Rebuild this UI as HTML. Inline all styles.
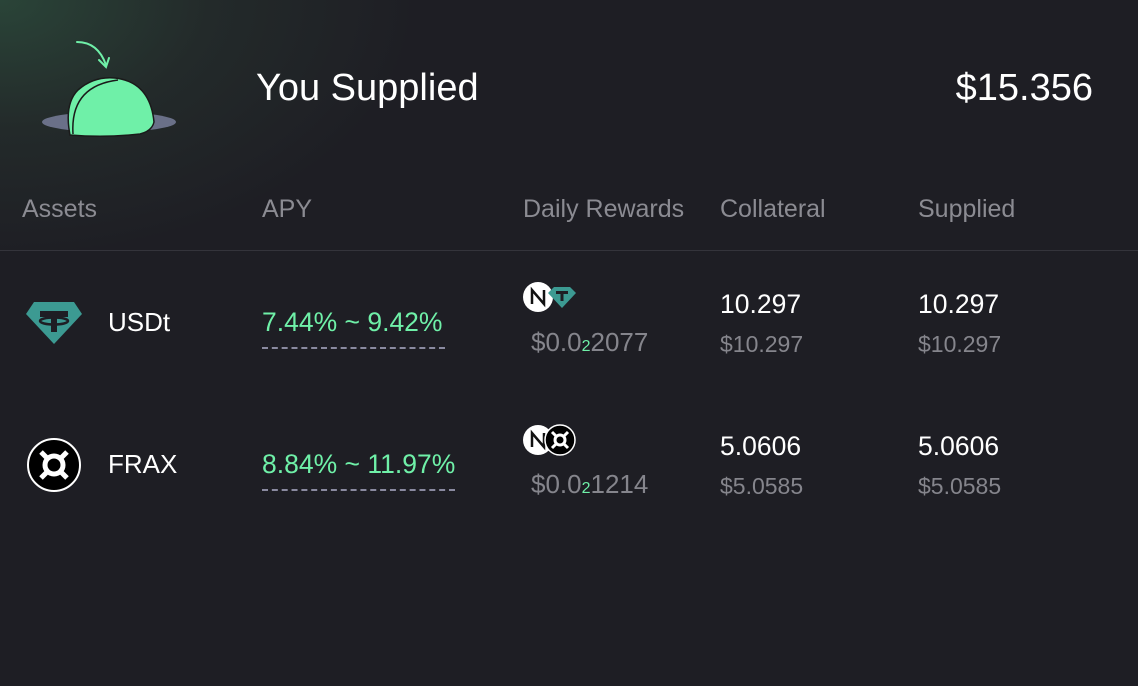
<!DOCTYPE html>
<html><head><meta charset="utf-8"><style>
body{margin:0;width:1138px;height:686px;background:#1e1e24;font-family:"Liberation Sans",sans-serif;overflow:hidden;position:relative}
.a{position:absolute;white-space:nowrap}
.h{color:#8b8b92;font-size:25px;top:195px}
.w{color:#fff}
.g{color:#6ff0a8}
.gr{color:#85858c}
.ul{position:absolute;border-top:2px dashed #8a8aa0;height:0}
</style></head><body>
<div class="a" style="left:0;top:0;width:1138px;height:250px;background:radial-gradient(ellipse 420px 260px at 0 0,#2a4438 0%,#232a2a 50%,#1e1e24 100%)"></div>
<svg class="a" style="left:0;top:0" width="200" height="150">
<ellipse cx="109" cy="122" rx="67" ry="10" fill="#6a7088"/>
<path d="M70 135 Q64 104 78 90 Q94 76 115 78 Q150 82 154 122 Q152 131 140 134 Q105 138 70 135Z" fill="#6ff0a8" stroke="#1a1a1a" stroke-width="1.5"/>
<path d="M73 134 Q70 86 118 80" fill="none" stroke="#1a1a1a" stroke-width="1.5"/>
<path d="M77 42 Q98 42 106 65 M99 60 L106 67 L109 58" fill="none" stroke="#6ff0a8" stroke-width="2" stroke-linecap="round"/>
</svg>
<div class="a w" style="left:256px;top:67px;font-size:38px">You Supplied</div>
<div class="a w" style="right:45px;top:67px;font-size:38px">$15.356</div>
<div class="a h" style="left:22px">Assets</div>
<div class="a h" style="left:262px">APY</div>
<div class="a h" style="left:523px">Daily Rewards</div>
<div class="a h" style="left:720px">Collateral</div>
<div class="a h" style="left:918px">Supplied</div>
<div class="a" style="left:0;top:250px;width:1138px;height:1px;background:#34343b"></div>

<!-- row 1 -->
<svg class="a" style="left:26px;top:302px" width="56" height="42"><path d="M8 0H48L56 12L28 42L0 12Z" fill="#3c9a92"/><path d="M14 9H42V15H31V30H25V15H14Z" fill="#1e1e24"/><ellipse cx="28" cy="19" rx="14" ry="3.5" fill="none" stroke="#1e1e24" stroke-width="2.5"/></svg>
<div class="a w" style="left:108px;top:307px;font-size:26px">USDt</div>
<div class="a g" style="left:262px;top:307px;font-size:26.5px">7.44% ~ 9.42%</div>
<div class="ul" style="left:262px;top:347px;width:183px"></div>
<svg class="a" style="left:523px;top:282px" width="60" height="32"><circle cx="15" cy="15" r="15" fill="#fff"/><path d="M9 22V8L21 22V8" fill="none" stroke="#111" stroke-width="2.5"/><path d="M31 5H47L53 11L39 26L25 11Z" fill="#3c9a92"/><path d="M33 9H45V12H40.5V19H37.5V12H33Z" fill="#1e1e24"/></svg>
<div class="a gr" style="left:531px;top:327px;font-size:26px">$0.0<span class="g" style="font-size:16px">2</span>2077</div>
<div class="a w" style="left:720px;top:289px;font-size:26.5px">10.297</div>
<div class="a gr" style="left:720px;top:331px;font-size:23px">$10.297</div>
<div class="a w" style="left:918px;top:289px;font-size:26.5px">10.297</div>
<div class="a gr" style="left:918px;top:331px;font-size:23px">$10.297</div>

<!-- row 2 -->
<svg class="a" style="left:27px;top:438px" width="54" height="54"><circle cx="27" cy="27" r="26" fill="#000" stroke="#fff" stroke-width="2"/><circle cx="27" cy="27" r="9" fill="none" stroke="#fff" stroke-width="5"/><path d="M14 14L20 20M40 14L34 20M14 40L20 34M40 40L34 34" stroke="#fff" stroke-width="5"/></svg>
<div class="a w" style="left:108px;top:449px;font-size:26px">FRAX</div>
<div class="a g" style="left:262px;top:449px;font-size:26.5px">8.84% ~ 11.97%</div>
<div class="ul" style="left:262px;top:489px;width:193px"></div>
<svg class="a" style="left:523px;top:424px" width="60" height="34"><circle cx="15" cy="16" r="15" fill="#fff"/><path d="M9 23V9L21 23V9" fill="none" stroke="#111" stroke-width="2.5"/><circle cx="37" cy="16" r="15" fill="#000" stroke="#fff" stroke-width="1.5"/><circle cx="37" cy="16" r="5" fill="none" stroke="#fff" stroke-width="3"/><path d="M29 8L33 12M45 8L41 12M29 24L33 20M45 24L41 20" stroke="#fff" stroke-width="3"/></svg>
<div class="a gr" style="left:531px;top:469px;font-size:26px">$0.0<span class="g" style="font-size:16px">2</span>1214</div>
<div class="a w" style="left:720px;top:431px;font-size:26.5px">5.0606</div>
<div class="a gr" style="left:720px;top:473px;font-size:23px">$5.0585</div>
<div class="a w" style="left:918px;top:431px;font-size:26.5px">5.0606</div>
<div class="a gr" style="left:918px;top:473px;font-size:23px">$5.0585</div>
</body></html>
